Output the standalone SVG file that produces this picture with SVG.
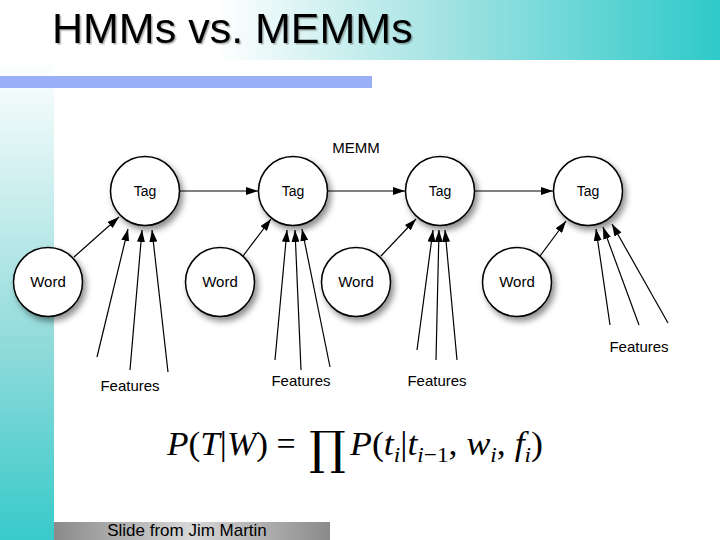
<svg xmlns="http://www.w3.org/2000/svg" width="720" height="540" viewBox="0 0 720 540">
<defs>
<linearGradient id="topg" x1="0" y1="0" x2="1" y2="0">
<stop offset="0" stop-color="#ffffff"/>
<stop offset="0.3" stop-color="#ffffff"/>
<stop offset="0.6" stop-color="#a8e4e4"/>
<stop offset="1" stop-color="#2ec9c9"/>
</linearGradient>
<linearGradient id="leftg" x1="0" y1="0" x2="0" y2="1">
<stop offset="0" stop-color="#ffffff"/>
<stop offset="0.6" stop-color="#8fdada"/>
<stop offset="1" stop-color="#38caca"/>
</linearGradient>
<linearGradient id="footg" x1="0" y1="0" x2="1" y2="0">
<stop offset="0" stop-color="#8a8a8a"/>
<stop offset="0.5" stop-color="#d8d8d8"/>
<stop offset="1" stop-color="#8a8a8a"/>
</linearGradient>
<filter id="sh" x="-30%" y="-30%" width="170%" height="170%">
<feDropShadow dx="3" dy="4" stdDeviation="3" flood-color="#000" flood-opacity="0.45"/>
</filter>
<filter id="tsh" x="-5%" y="-20%" width="110%" height="140%">
<feDropShadow dx="1.5" dy="1.5" stdDeviation="0.5" flood-color="#000" flood-opacity="0.3"/>
</filter>
<marker id="ah" viewBox="0 0 12 8" refX="12" refY="4" markerWidth="12" markerHeight="8" markerUnits="userSpaceOnUse" orient="auto">
<path d="M0,0 L12,4 L0,8 z" fill="#000"/>
</marker>
</defs>
<style>
.node{fill:#fff;stroke:#000;stroke-width:1.5}
.lbl{font-family:"Liberation Sans",Arial,sans-serif;font-size:15px;fill:#000;text-anchor:middle}
.tag{font-size:14px}
.edge{stroke:#000;stroke-width:1.2;fill:none;marker-end:url(#ah)}
.math{font-family:"Liberation Serif","Times New Roman",serif;font-size:34px;fill:#000}
</style>
<rect x="0" y="0" width="720" height="540" fill="#fff"/>
<rect x="0" y="0" width="720" height="60" fill="url(#topg)"/>
<rect x="0" y="60" width="54" height="480" fill="url(#leftg)"/>
<rect x="0" y="76" width="372" height="12" fill="#99b0f8"/>
<text x="52" y="43" font-family="'Liberation Sans',Arial,sans-serif" font-size="43" fill="#000" filter="url(#tsh)">HMMs vs. MEMMs</text>

<g id="connectors">
<line class="edge" x1="180" y1="191" x2="258" y2="191"/>
<line class="edge" x1="327" y1="191" x2="405" y2="191"/>
<line class="edge" x1="475" y1="191" x2="553" y2="191"/>
<line class="edge" x1="74" y1="257" x2="119" y2="217"/>
<line class="edge" x1="243" y1="256" x2="271" y2="219"/>
<line class="edge" x1="381" y1="256" x2="416" y2="219"/>
<line class="edge" x1="540" y1="256" x2="566" y2="221"/>
<line class="edge" x1="97" y1="357" x2="128" y2="229"/>
<line class="edge" x1="130" y1="370" x2="142" y2="230"/>
<line class="edge" x1="168" y1="372" x2="152" y2="230"/>
<line class="edge" x1="275" y1="360" x2="287" y2="230"/>
<line class="edge" x1="301" y1="370" x2="295" y2="230"/>
<line class="edge" x1="330" y1="367" x2="302" y2="229"/>
<line class="edge" x1="417" y1="350" x2="433" y2="230"/>
<line class="edge" x1="436" y1="360" x2="439" y2="230"/>
<line class="edge" x1="457" y1="360" x2="445" y2="230"/>
<line class="edge" x1="610" y1="325" x2="596" y2="229"/>
<line class="edge" x1="639" y1="325" x2="603" y2="227"/>
<line class="edge" x1="668" y1="323" x2="612" y2="224"/>
</g>

<g id="tag1"><circle class="node" cx="145" cy="191" r="34.5" filter="url(#sh)"/><text class="lbl tag" x="145" y="196">Tag</text></g>
<g id="tag2"><circle class="node" cx="293" cy="191" r="34.5" filter="url(#sh)"/><text class="lbl tag" x="293" y="196">Tag</text></g>
<g id="tag3"><circle class="node" cx="440" cy="191" r="34.5" filter="url(#sh)"/><text class="lbl tag" x="440" y="196">Tag</text></g>
<g id="tag4"><circle class="node" cx="588" cy="191" r="34.5" filter="url(#sh)"/><text class="lbl tag" x="588" y="196">Tag</text></g>
<g id="word1"><circle class="node" cx="48" cy="282" r="34.5" filter="url(#sh)"/><text class="lbl" x="48" y="287">Word</text></g>
<g id="word2"><circle class="node" cx="220" cy="282" r="34.5" filter="url(#sh)"/><text class="lbl" x="220" y="287">Word</text></g>
<g id="word3"><circle class="node" cx="356" cy="282" r="34.5" filter="url(#sh)"/><text class="lbl" x="356" y="287">Word</text></g>
<g id="word4"><circle class="node" cx="517" cy="282" r="34.5" filter="url(#sh)"/><text class="lbl" x="517" y="287">Word</text></g>

<g id="labels">
<text class="lbl" x="356" y="153">MEMM</text>
<text class="lbl" x="130" y="391">Features</text>
<text class="lbl" x="301" y="386">Features</text>
<text class="lbl" x="437" y="386">Features</text>
<text class="lbl" x="639" y="352">Features</text>
</g>

<g id="formula">
<text class="math" x="167" y="455" textLength="101" lengthAdjust="spacingAndGlyphs"><tspan font-style="italic">P</tspan>(<tspan font-style="italic">T</tspan>|<tspan font-style="italic">W</tspan>)</text>
<text class="math" x="286" y="455" text-anchor="middle">=</text>
<text x="327.5" y="464" font-family="'DejaVu Serif',serif" font-size="46" text-anchor="middle" fill="#000">∏</text>
<text class="math" x="350" y="455" textLength="193" lengthAdjust="spacingAndGlyphs"><tspan font-style="italic">P</tspan>(<tspan font-style="italic">t</tspan><tspan font-style="italic" font-size="22" dy="7">i</tspan><tspan dy="-7">|</tspan><tspan font-style="italic">t</tspan><tspan font-style="italic" font-size="22" dy="7">i</tspan><tspan font-size="22">−1</tspan><tspan dy="-7">, </tspan><tspan font-style="italic">w</tspan><tspan font-style="italic" font-size="22" dy="7">i</tspan><tspan dy="-7">, </tspan><tspan font-style="italic">f</tspan><tspan font-style="italic" font-size="22" dy="7">i</tspan><tspan dy="-7">)</tspan></text>
</g>

<rect x="54" y="522" width="276" height="18" fill="url(#footg)"/>
<text x="187" y="536" font-family="'Liberation Sans',Arial,sans-serif" font-size="17" text-anchor="middle" fill="#000">Slide from Jim Martin</text>
</svg>
